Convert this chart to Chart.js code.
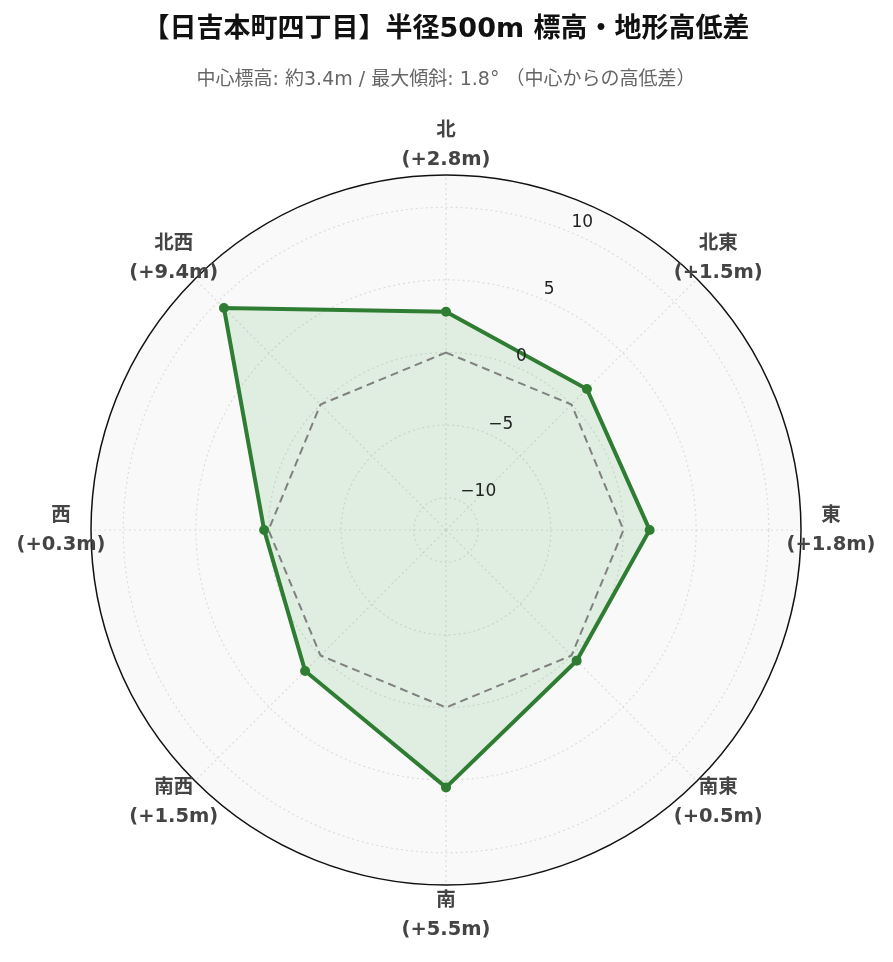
<!DOCTYPE html>
<html>
<head>
<meta charset="utf-8">
<script src="https://cdn.jsdelivr.net/npm/chart.js@4"></script>
<style>
  html, body { margin: 0; padding: 0; background: #fff; }
  #wrap { width: 893px; height: 962px; }
</style>
</head>
<body>
<div id="wrap"><canvas id="chart"></canvas></div>
<script>
const directions = ['北', '北東', '東', '南東', '南', '南西', '西', '北西'];
const heightDiffs = [2.8, 1.5, 1.8, 0.5, 5.5, 1.5, 0.3, 9.4];
const zeroLine = [0, 0, 0, 0, 0, 0, 0, 0];
const tickValues = [-10, -5, 0, 5, 10];
const rangeMax = 12.22;

const fam = "'DejaVu Sans', 'Noto Sans CJK JP', sans-serif";
const labelFont = 'bold 19.5px ' + fam;
const tickFont = '17px ' + fam;

const fmtDiff = v => '(' + (v >= 0 ? '+' : '') + v.toFixed(1) + 'm)';

// circle background, outer ring, tick + direction labels
const polarBg = {
  id: 'polarBg',
  beforeDraw(chart) {
    const s = chart.scales.r;
    const c = chart.ctx;
    c.save();
    c.beginPath();
    c.arc(s.xCenter, s.yCenter, s.drawingArea, 0, Math.PI * 2);
    c.fillStyle = '#f9f9f9';
    c.fill();
    c.restore();
  },
  afterDraw(chart) {
    const s = chart.scales.r;
    const c = chart.ctx;
    c.save();
    c.beginPath();
    c.arc(s.xCenter, s.yCenter, s.drawingArea, 0, Math.PI * 2);
    c.strokeStyle = '#111';
    c.lineWidth = 1.5;
    c.stroke();

    c.font = tickFont;
    c.fillStyle = '#222';
    c.textAlign = 'left';
    c.textBaseline = 'middle';
    tickValues.forEach(v => {
      const p = s.getPointPositionForValue(0.5, v);
      c.fillText(v < 0 ? '\u2212' + Math.abs(v) : String(v), p.x + 2, p.y - 9);
    });

    c.font = labelFont;
    c.fillStyle = '#444';
    c.textAlign = 'center';
    directions.forEach((d, i) => {
      const p = s.getPointPosition(i, s.drawingArea + 30);
      c.fillText(d, p.x, p.y - 14);
      c.fillText(fmtDiff(heightDiffs[i]), p.x, p.y + 15);
    });
    c.restore();
  }
};

new Chart(document.getElementById('chart'), {
  type: 'radar',
  data: {
    labels: directions,
    datasets: [{
      label: '高低差',
      data: heightDiffs,
      order: 1,
      borderColor: '#2e7d32',
      backgroundColor: 'rgba(76, 175, 80, 0.15)',
      borderWidth: 4,
      fill: 'start',
      pointRadius: 5,
      pointBackgroundColor: '#2e7d32',
      pointBorderColor: '#2e7d32',
      pointBorderWidth: 0
    }, {
      label: '基準',
      data: zeroLine,
      order: 0,
      borderColor: 'rgba(128, 128, 128, 1)',
      borderWidth: 2,
      borderDash: [8, 5],
      fill: false,
      pointRadius: 0
    }]
  },
  options: {
    responsive: true,
    maintainAspectRatio: false,
    animation: false,
    layout: { padding: { left: 91, right: 92, top: 0, bottom: 77 } },
    plugins: {
      legend: { display: false },
      tooltip: { enabled: false },
      title: {
        display: true,
        text: '【日吉本町四丁目】半径500m 標高・地形高低差',
        color: '#111',
        font: { family: fam, size: 27, weight: 'bold', lineHeight: 1.2 },
        padding: { top: 14, bottom: 0 }
      },
      subtitle: {
        display: true,
        text: '中心標高: 約3.4m / 最大傾斜: 1.8° （中心からの高低差）',
        color: '#666',
        font: { family: fam, size: 19, lineHeight: 1.2 },
        padding: { top: 22.7, bottom: 83.1 }
      }
    },
    scales: {
      r: {
        min: -rangeMax,
        max: rangeMax,
        afterBuildTicks(scale) {
          scale.ticks = tickValues.map(v => ({ value: v }));
        },
        ticks: { display: false },
        pointLabels: { display: false },
        grid: { circular: true, color: '#dddddd', lineWidth: 1.2 },
        border: { dash: [2, 3] },
        angleLines: { color: '#dddddd', lineWidth: 1.2, borderDash: [2, 3] }
      }
    }
  },
  plugins: [polarBg]
});
</script>
</body>
</html>
